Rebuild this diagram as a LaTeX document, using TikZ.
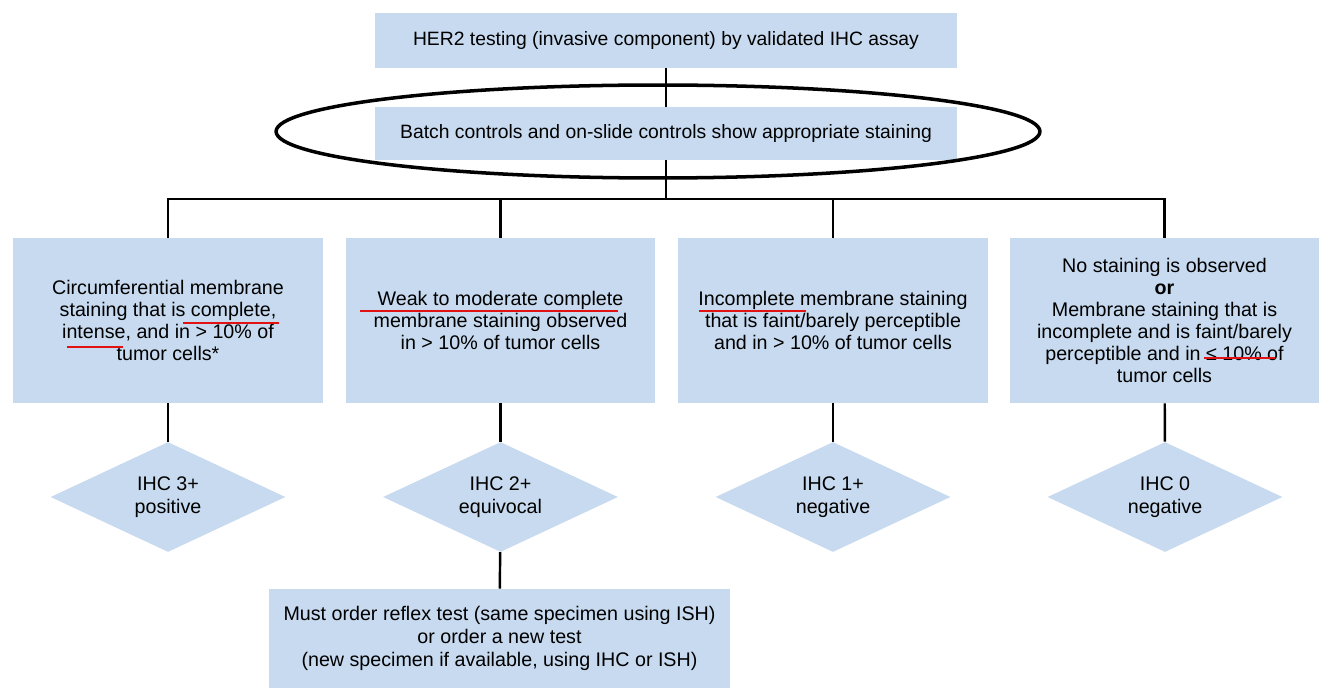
\documentclass[tikz,border=0pt]{standalone}
\usepackage{fontspec}
\setmainfont{Liberation Sans}
\usetikzlibrary{shapes.geometric}
\definecolor{colBOX}{RGB}{199,218,239}
\definecolor{colMARK}{RGB}{226,18,18}

\begin{document}
\begin{tikzpicture}[x=0.02cm, y=-0.02cm,
    every node/.style={font=\fontsize{11.2}{12.5}\selectfont, align=center, inner sep=2pt},
    critbox/.style={fill=colBOX, minimum width=6.2cm, minimum height=3.3cm},
    widebox/.style={fill=colBOX, minimum width=11.64cm, font=\fontsize{11}{12.5}\selectfont},
    gradebox/.style={diamond, aspect=2.1, fill=colBOX, minimum width=4.7cm, minimum height=2.2cm, inner sep=0pt,
      font=\fontsize{11.2}{13}\selectfont},
    conn/.style={line width=1.4pt},
    redline/.style={colMARK, line width=1pt}]
  \useasboundingbox (0,0) rectangle (1334,699);
  % --- top: assay and controls ---
  \node[widebox, minimum height=1.1cm] (assay) at (666,40.5) {HER2 testing (invasive component) by validated IHC assay};
  \node[widebox, minimum height=1.06cm] (ctrl) at (666,133.5) {Batch controls and on-slide controls show appropriate staining};
  \coordinate (split) at (666,199);
  % --- criteria boxes ---
  \node[critbox] (c3) at (168,320.5) {Circumferential membrane\\staining that is complete,\\intense, and in > 10\% of\\tumor cells*};
  \node[critbox] (c2) at (500.5,320.5) {Weak to moderate complete\\membrane staining observed\\in > 10\% of tumor cells};
  \node[critbox] (c1) at (833,320.5) {Incomplete membrane staining\\that is faint/barely perceptible\\and in > 10\% of tumor cells};
  \node[critbox] (c0) at (1164.5,320.5) {No staining is observed\\\textbf{or}\\Membrane staining that is\\incomplete and is faint/barely\\perceptible and in ≤ 10\% of\\tumor cells};
  % --- scores ---
  \node[gradebox] (s3) at (168,497) {IHC 3+\\positive};
  \node[gradebox] (s2) at (500.5,497) {IHC 2+\\equivocal};
  \node[gradebox] (s1) at (833,497) {IHC 1+\\negative};
  \node[gradebox] (s0) at (1165,497) {IHC 0\\negative};
  \node[fill=colBOX, minimum width=9.22cm, minimum height=1.98cm, font=\fontsize{11.2}{13}\selectfont] (reflex) at (499.5,638.5)
    {Must order reflex test (same specimen using ISH)\\or order a new test\\(new specimen if available, using IHC or ISH)};
  % --- connectors ---
  \draw[conn] (assay) -- (ctrl);
  \draw[conn] (ctrl) -- (split);
  \draw[conn] (split) -| (c3);
  \draw[conn] (split) -| (c2);
  \draw[conn] (split) -| (c1);
  \draw[conn] (split) -| (c0);
  \draw[conn] (c3) -- (s3);
  \draw[conn] (c2) -- (s2);
  \draw[conn] (c1) -- (s1);
  \draw[conn] (c0) -- (s0);
  \draw[conn] (s2) -- (reflex);
  % --- hand marks ---
  \draw[line width=2pt] (658,131.5) ellipse [x radius=7.64cm, y radius=0.93cm];
  \draw[redline] (183,323) -- (279,323);
  \draw[redline] (67,347) -- (123,347);
  \draw[redline] (360,311) -- (618,311);
  \draw[redline] (699,311) -- (806,311);
  \draw[redline] (1204,358) -- (1275,358);
\end{tikzpicture}
\end{document}
